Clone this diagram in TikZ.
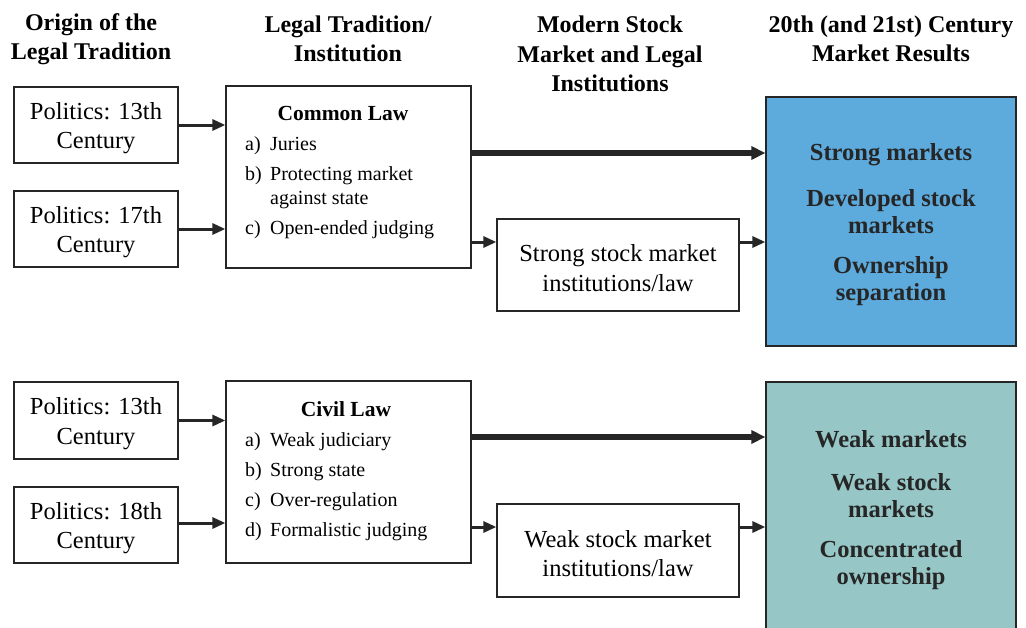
\documentclass[tikz,border=0pt]{standalone}
\usepackage{fontspec}
\setmainfont{Liberation Serif}
\usetikzlibrary{arrows.meta}
\definecolor{resblue}{HTML}{5DAADD}
\definecolor{resteal}{HTML}{96C6C6}

\begin{document}
\begin{tikzpicture}[x=1pt,y=-1pt,
    box/.style={draw=black!85,line width=1.3pt,inner sep=0pt},
    head/.style={align=center,yshift=-2pt,font=\fontsize{24}{29.5}\selectfont\bfseries},
    txt/.style={align=center,yshift=-3pt,font=\fontsize{24.5}{29.5}\selectfont},
    ttl/.style={yshift=-1pt,font=\fontsize{21.5}{26}\selectfont\bfseries},
    item/.style={anchor=west,inner sep=0pt,yshift=-1pt,text height=14pt,text depth=4pt,
      font=\fontsize{20}{24}\selectfont},
    res/.style={align=center,yshift=-2pt,text=black!85,font=\fontsize{24.5}{27}\selectfont\bfseries},
    arr/.style={-{Triangle[length=13pt,width=11pt]},line width=3pt,black!85},
    bigarr/.style={-{Triangle[length=14pt,width=13pt]},line width=6pt,black!85}]
  \useasboundingbox (0,0) rectangle (1026,627);

  % column headings
  \node[head] (h1) at (91,37)  {Origin of the\\Legal Tradition};
  \node[head] (h2) at (348,37) {Legal Tradition/\\Institution};
  \node[head] (h3) at (610,52) {Modern Stock\\Market and Legal\\Institutions};
  \node[head] (h4) at (891,37) {20th (and 21st) Century\\Market Results};

  % common law row
  \node[box,minimum width=164pt,minimum height=76pt] (p1) at (96,125) {};
  \node[txt] (p1t) at (p1) {Politics: 13th\\Century};
  \node[box,minimum width=164pt,minimum height=76pt] (p2) at (96,229) {};
  \node[txt] (p2t) at (p2) {Politics: 17th\\Century};

  \node[box,minimum width=245pt,minimum height=182pt] (cl) at (348.5,177) {};
  \node[ttl] (clt) at (343,112) {Common Law};
  \node[item] (cla) at (245,144) {a)};
  \node[item] (cla1) at (270,144) {Juries};
  \node[item] (clb) at (245,174) {b)};
  \node[item] (clb1) at (270,174) {Protecting market};
  \node[item] (clb2) at (270,198) {against state};
  \node[item] (clc) at (245,228) {c)};
  \node[item] (clc1) at (270,228) {Open-ended judging};

  \node[box,minimum width=242pt,minimum height=92pt] (ss) at (618,265) {};
  \node[txt] (sst) at (ss) {Strong stock market\\institutions/law};

  \node[box,fill=resblue,minimum width=250pt,minimum height=249pt] (r1) at (891,221.5) {};
  \node[res] (r1a) at (891,153) {Strong markets};
  \node[res] (r1b) at (891,209.5) {Developed stock\\markets};
  \node[res] (r1c) at (891,279.5) {Ownership\\separation};

  % civil law row
  \node[box,minimum width=164pt,minimum height=77pt] (p3) at (96,420.5) {};
  \node[txt] (p3t) at (p3) {Politics: 13th\\Century};
  \node[box,minimum width=164pt,minimum height=76pt] (p4) at (96,525) {};
  \node[txt] (p4t) at (p4) {Politics: 18th\\Century};

  \node[box,minimum width=245pt,minimum height=182pt] (cv) at (348.5,472) {};
  \node[ttl] (cvt) at (346,408) {Civil Law};
  \node[item] (cva) at (245,440) {a)};
  \node[item] (cva1) at (270,440) {Weak judiciary};
  \node[item] (cvb) at (245,470) {b)};
  \node[item] (cvb1) at (270,470) {Strong state};
  \node[item] (cvc) at (245,500) {c)};
  \node[item] (cvc1) at (270,500) {Over-regulation};
  \node[item] (cvd) at (245,530) {d)};
  \node[item] (cvd1) at (270,530) {Formalistic judging};

  \node[box,minimum width=242pt,minimum height=93pt] (ws) at (618,550.5) {};
  \node[txt] (wst) at (ws) {Weak stock market\\institutions/law};

  \node[box,fill=resteal,minimum width=250pt,minimum height=268pt] (r2) at (891,516) {};
  \node[res] (r2a) at (891,437) {Weak markets};
  \node[res] (r2b) at (891,493.5) {Weak stock\\markets};
  \node[res] (r2c) at (891,563.5) {Concentrated\\ownership};

  % connectors
  \draw[arr] (p1.east) -- (p1.east -| cl.west);
  \draw[arr] (p2.east) -- (p2.east -| cl.west);
  \draw[bigarr] (cl.east |- 0,153) -- (r1.west |- 0,153);
  \draw[arr] (cl.east |- 0,242) -- (ss.west |- 0,242);
  \draw[arr] (ss.east |- 0,242) -- (r1.west |- 0,242);

  \draw[arr] (p3.east) -- (p3.east -| cv.west);
  \draw[arr] (p4.east |- 0,523) -- (cv.west |- 0,523);
  \draw[bigarr] (cv.east |- 0,437) -- (r2.west |- 0,437);
  \draw[arr] (cv.east |- 0,527) -- (ws.west |- 0,527);
  \draw[arr] (ws.east |- 0,527) -- (r2.west |- 0,527);
\end{tikzpicture}
\end{document}
